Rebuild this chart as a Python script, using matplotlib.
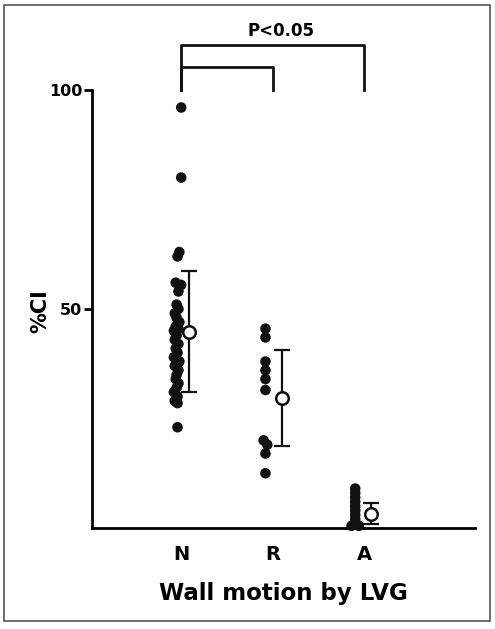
import numpy as np
import matplotlib.pyplot as plt
from matplotlib.patches import Rectangle

plt.rcParams['font.family'] = ['DejaVu Sans']
plt.rcParams['font.weight'] = 'bold'

# groups on the x axis
groups = ['N', 'R', 'A']

# individual %CI values
n_vals = [96, 80, 63, 62, 56, 55.5, 54, 51, 50, 49, 48, 47, 46, 45.5, 45, 44,
          43, 42, 41, 40, 39, 38, 37.5, 37, 36, 35, 34, 33, 32, 31, 30, 29, 28.5, 23]
n_dx = [0.0, 0.0, -0.02, -0.04, -0.06, 0.0, -0.03, -0.05, -0.03, -0.07, -0.05, -0.02,
        -0.06, -0.03, -0.08, -0.05, -0.07, -0.03, -0.06, -0.04, -0.08, -0.02, -0.05,
        -0.07, -0.03, -0.05, -0.06, -0.03, -0.05, -0.08, -0.04, -0.07, -0.04, -0.04]
r_vals = [45.5, 43.5, 38, 36, 34, 31.5, 20, 19, 17, 12.5]
r_dx = [-0.08, -0.08, -0.08, -0.08, -0.08, -0.08, -0.1, -0.06, -0.08, -0.08]
a_vals = [9, 8, 7, 6, 5, 4, 3, 2, 1, 0.5, 0.5]
a_dx = [-0.1, -0.1, -0.1, -0.1, -0.1, -0.1, -0.1, -0.1, -0.1, -0.14, -0.06]

# mean and spread (open circles with error bars)
means = [44.7, 29.7, 3.3]
upper = [58.7, 40.6, 5.8]
lower = [31.0, 18.7, 1.0]
mean_dx = [0.09, 0.1, 0.07]

fig = plt.figure(figsize=(4.95, 6.29), dpi=100)
ax = fig.add_axes([0.186, 0.1606, 0.774, 0.8008])

xpos = np.arange(1, len(groups) + 1)
for x, vals, dx in zip(xpos, [n_vals, r_vals, a_vals], [n_dx, r_dx, a_dx]):
    ax.scatter(x + np.array(dx), vals, s=58, color='#111111', zorder=3,
               edgecolors='none', clip_on=False)

for x, m, u, l, dx in zip(xpos, means, upper, lower, mean_dx):
    xx = x + dx
    ax.errorbar(xx, m, yerr=[[m - l], [u - m]], fmt='none', ecolor='#111111',
                elinewidth=1.6, capsize=6, capthick=1.6, zorder=4, clip_on=False)
    ax.plot(xx, m, 'o', ms=9, mfc='white', mec='#111111', mew=1.8, zorder=5,
            clip_on=False)

# significance brackets
ax.plot([xpos[0], xpos[0], xpos[2], xpos[2]], [100, 110.3, 110.3, 100],
        color='#111111', lw=2, clip_on=False)
ax.plot([xpos[0], xpos[0], xpos[1], xpos[1]], [100, 105.2, 105.2, 100],
        color='#111111', lw=2, clip_on=False)
ax.text((xpos[0] + xpos[2]) / 2 + 0.09, 111.3, 'P<0.05', ha='center', va='bottom',
        fontsize=12, fontweight='bold')

ax.set_xlim(0.027, 4.21)
ax.set_ylim(0, 115)
ax.spines['top'].set_visible(False)
ax.spines['right'].set_visible(False)
ax.spines['left'].set_bounds(0, 100)
ax.spines['left'].set_linewidth(2)
ax.spines['bottom'].set_linewidth(2)

ax.set_yticks([50, 100])
ax.set_yticklabels(['50', '100'], fontsize=11.5, fontweight='bold')
ax.tick_params(axis='y', length=6, width=2, pad=1)
ax.set_xticks(xpos)
ax.set_xticklabels(groups, fontsize=14, fontweight='bold')
ax.tick_params(axis='x', length=0, pad=12)

ax.set_ylabel('%CI', fontsize=15, fontweight='bold')
ax.yaxis.set_label_coords(-0.11, 0.43)
ax.set_xlabel('Wall motion by LVG', fontsize=16.5, fontweight='bold', labelpad=13)

fig.patches.append(Rectangle((0.008, 0.012), 0.982, 0.98, transform=fig.transFigure,
                             fill=False, edgecolor='#555555', lw=1.2))

fig.savefig('out.png', dpi=100)
